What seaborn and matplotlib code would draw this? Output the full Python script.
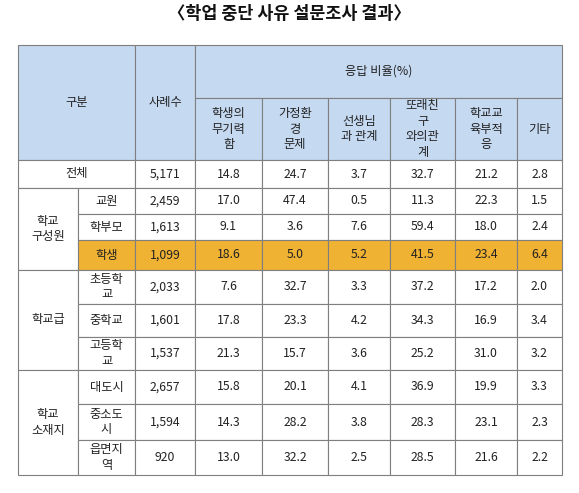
import matplotlib
matplotlib.use("Agg")
import matplotlib.pyplot as plt
from matplotlib.patches import Rectangle
import seaborn as sns

sns.set_theme(style="white")
plt.rcParams['font.family'] = ['Noto Sans CJK KR', 'DejaVu Sans']

title = "〈학업 중단 사유 설문조사 결과〉"
col_heads = ["학생의\n무기력\n함", "가정환\n경\n문제", "선생님\n과 관계", "또래친\n구\n와의관\n계", "학교교\n육부적\n응", "기타"]
groups = [("전체", 1), ("학교\n구성원", 3), ("학교급", 3), ("학교\n소재지", 3)]
row_labels = ["전체", "교원", "학부모", "학생", "초등학\n교", "중학교", "고등학\n교", "대도시", "중소도\n시", "읍면지\n역"]
cases = ["5,171", "2,459", "1,613", "1,099", "2,033", "1,601", "1,537", "2,657", "1,594", "920"]
values = [
    [14.8, 24.7, 3.7, 32.7, 21.2, 2.8],
    [17.0, 47.4, 0.5, 11.3, 22.3, 1.5],
    [9.1, 3.6, 7.6, 59.4, 18.0, 2.4],
    [18.6, 5.0, 5.2, 41.5, 23.4, 6.4],
    [7.6, 32.7, 3.3, 37.2, 17.2, 2.0],
    [17.8, 23.3, 4.2, 34.3, 16.9, 3.4],
    [21.3, 15.7, 3.6, 25.2, 31.0, 3.2],
    [15.8, 20.1, 4.1, 36.9, 19.9, 3.3],
    [14.3, 28.2, 3.8, 28.3, 23.1, 2.3],
    [13.0, 32.2, 2.5, 28.5, 21.6, 2.2],
]
highlight = 3

xs = [18, 78, 135, 195, 262, 328, 390, 455, 517, 562]
ys = [160, 188, 214, 240, 270, 304, 337, 370, 404, 440, 475]
hy = [45, 98, 160]
HEAD = "#c5d9f1"
ORANGE = "#f0b233"
LINE = "#7f7f7f"
fs = 8.8

fig = plt.figure(figsize=(5.79, 4.93), dpi=100)
ax = fig.add_axes([0, 0, 1, 1])
ax.set_xlim(0, 579)
ax.set_ylim(493, 0)
ax.axis("off")

def cell(x0, x1, y0, y1, text, fc="white", **kw):
    ax.add_patch(Rectangle((x0, y0), x1 - x0, y1 - y0, facecolor=fc, edgecolor=LINE, lw=0.8))
    ax.text((x0 + x1) / 2, (y0 + y1) / 2, text, ha="center", va="center", fontsize=fs,
            linespacing=1.25, color="#222222", **kw)

ax.text(289, 14, title, ha="center", va="center", fontsize=12.5, fontweight="bold", color="#111111")

cell(xs[0], xs[2], hy[0], hy[2], "구분", HEAD)
cell(xs[2], xs[3], hy[0], hy[2], "사례수", HEAD)
cell(xs[3], xs[-1], hy[0], hy[1], "응답 비율(%)", HEAD)
for j, h in enumerate(col_heads):
    cell(xs[3 + j], xs[4 + j], hy[1], hy[2], h, HEAD)

r = 0
for g, n in groups:
    if n == 1:
        cell(xs[0], xs[2], ys[r], ys[r + 1], g)
    else:
        cell(xs[0], xs[1], ys[r], ys[r + n], g)
        for k in range(n):
            fc = ORANGE if r + k == highlight else "white"
            cell(xs[1], xs[2], ys[r + k], ys[r + k + 1], row_labels[r + k], fc)
    r += n

for i in range(len(row_labels)):
    fc = ORANGE if i == highlight else "white"
    cell(xs[2], xs[3], ys[i], ys[i + 1], cases[i], fc)
    for j, v in enumerate(values[i]):
        cell(xs[3 + j], xs[4 + j], ys[i], ys[i + 1], f"{v:.1f}", fc)

fig.savefig("out.png", dpi=100)
